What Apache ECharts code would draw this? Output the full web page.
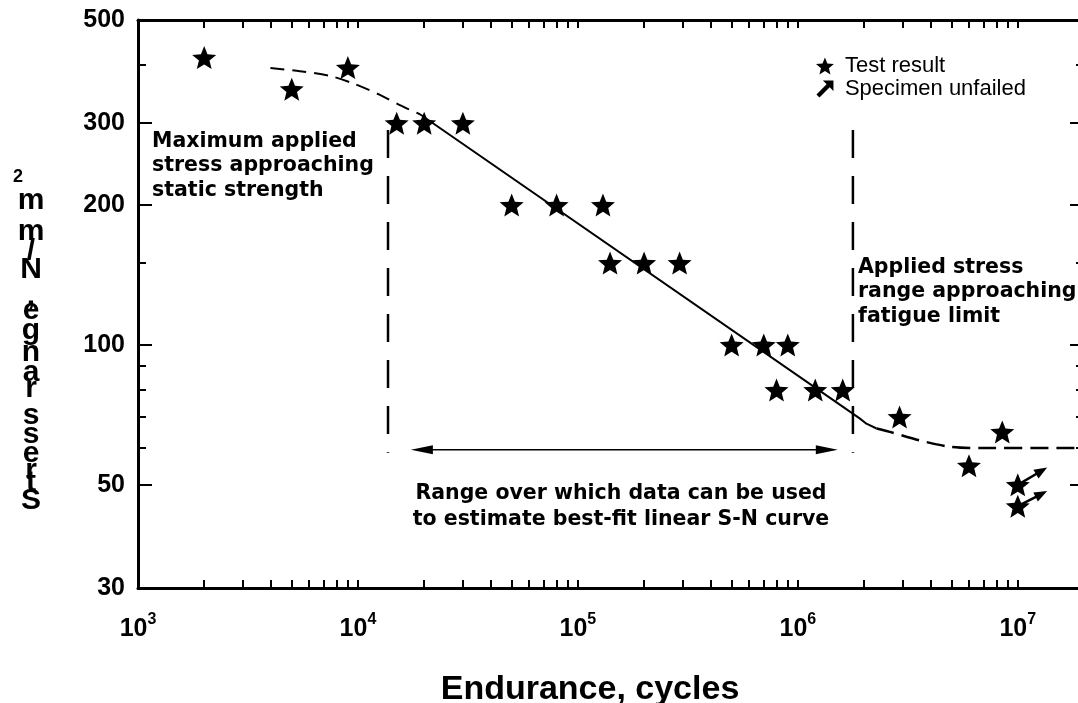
<!DOCTYPE html>
<html><head><meta charset="utf-8">
<script src="https://cdn.jsdelivr.net/npm/echarts@6/dist/echarts.min.js"></script>
<style>html,body{margin:0;padding:0;background:#fff}#c{width:1078px;height:703px}</style>
</head><body><div id="c"></div>
<script>
// ---- data ----
const testN = [2000, 5000, 9000, 15000, 20000, 30000, 50000, 80000, 130000, 140000, 200000, 290000, 500000, 700000, 900000, 800000, 1200000, 1600000, 2900000, 6000000, 8500000, 10000000, 10000000];
const testS = [415, 355, 395, 300, 300, 300, 200, 200, 200, 150, 150, 150, 100, 100, 100, 80, 80, 80, 70, 55, 65, 50, 45];
const unfailedN = [10000000, 10000000];
const unfailedS = [50, 45];
const unfailedEndN = [13600000, 13600000];
const unfailedEndS = [54.5, 48.5];
const upperCurveN = [4000, 5450, 7460, 9690, 12590, 15520, 19140];
const upperCurveS = [394, 388, 379, 364, 345, 328, 313.5];
const fitLineN = [19140, 1910000, 2050000, 2280000];
const fitLineS = [313.5, 69.5, 67.7, 66.1];
const lowerCurveN = [2280000, 2620000, 3590000, 4910000, 6700000, 20000000];
const lowerCurveS = [66.1, 65.0, 62.3, 60.4, 60, 60];
const boundaryN = [13700, 1780000];
const boundaryS = [290, 58.6];
const rangeArrowN = [17400, 1520000];
const rangeArrowS = [59.5, 59.5];
const xTickLabels = [1e3, 1e4, 1e5, 1e6, 1e7];
const xMinorMultipliers = [2, 3, 4, 5, 6, 7, 8, 9];
const yTickLabels = [30, 50, 100, 200, 300, 500];
const yMajorTicks = [50, 100, 200, 300];
const yMinorTicks = [60, 70, 80, 90, 150, 400];
const legendNames = ['Test result', 'Specimen unfailed'];
const yTitle = 'Stress range, N/mm';
const yTitleSup = '2';
const xTitle = 'Endurance, cycles';
const noteLeft = 'Maximum applied\nstress approaching\nstatic strength';
const noteRight = 'Applied stress\nrange approaching\nfatigue limit';
const noteBottom = 'Range over which data can be used\nto estimate best-fit linear S-N curve';

// ---- derived ----
const xTicks = [];
xTickLabels.forEach(d => { xTicks.push(d); xMinorMultipliers.forEach(m => { if (m * d <= 2e7) xTicks.push(m * d); }); });
const zip = (a, b) => a.map((v, i) => [v, b[i]]);

const STAR = 'path://M50 0 L62.93 32.2 L97.55 34.55 L70.92 56.8 L79.39 90.45 L50 72 L20.61 90.45 L29.08 56.8 L2.45 34.55 L37.07 32.2 Z';
const ARROW = 'path://M100 0 L100 62 L78 40 L18 100 L0 82 L60 22 L38 0 Z';
const FONT = '"Liberation Sans", Arial, sans-serif';
const NOTE_FONT = 'bold 20.5px "DejaVu Sans", sans-serif';

function makeArrow(headLen, headW, lineW, both) {
  return function (params, api) {
    const a = api.coord([api.value(0), api.value(1)]);
    const b = api.coord([api.value(2), api.value(3)]);
    const dx = b[0] - a[0], dy = b[1] - a[1], L = Math.hypot(dx, dy);
    const ux = dx / L, uy = dy / L, nx = -uy, ny = ux;
    const head = (tip, dir) => {
      const bx = tip[0] - dir * ux * headLen, by = tip[1] - dir * uy * headLen;
      return { type: 'polygon', shape: { points: [tip, [bx + nx * headW / 2, by + ny * headW / 2], [bx - nx * headW / 2, by - ny * headW / 2]] }, style: { fill: '#000' } };
    };
    const s = both ? [a[0] + ux * headLen * 0.8, a[1] + uy * headLen * 0.8] : a;
    const e = [b[0] - ux * headLen * 0.8, b[1] - uy * headLen * 0.8];
    const children = [{ type: 'line', shape: { x1: s[0], y1: s[1], x2: e[0], y2: e[1] }, style: { stroke: '#000', lineWidth: lineW } }, head(b, 1)];
    if (both) children.push(head(a, -1));
    return { type: 'group', children };
  };
}

function buildYTitle() {
  const ctx = document.createElement('canvas').getContext('2d');
  const font = 'bold 30px "Liberation Sans"';
  ctx.font = font;
  let y = 512;
  const els = [];
  for (const ch of yTitle) {
    const w = ctx.measureText(ch).width * 1.16;
    if (ch !== ' ') els.push({ type: 'text', x: 31, y: y - w / 2, style: { text: ch, font, fill: '#000', align: 'center', verticalAlign: 'middle', textAlign: 'center', textVerticalAlign: 'middle' } });
    y -= w;
  }
  els.push({ type: 'text', x: 18, y: y - 8, style: { text: yTitleSup, font: 'bold 18px "Liberation Sans"', fill: '#000', align: 'center', verticalAlign: 'middle', textAlign: 'center', textVerticalAlign: 'middle' } });
  return els;
}

const tickStyle = { color: '#000', width: 2 };
const lineAx = { show: true, onZero: false, lineStyle: { color: '#000', width: 3 } };
const commonX = { type: 'log', logBase: 10, min: 1000, max: 2e7, splitLine: { show: false }, minorTick: { show: false } };
const commonY = { type: 'log', logBase: 10, min: 30, max: 500, splitLine: { show: false }, minorTick: { show: false } };

const chart = echarts.init(document.getElementById('c'), null, { renderer: 'canvas' });
chart.setOption({
  animation: false,
  backgroundColor: '#fff',
  color: ['#000'],
  grid: { left: 138, top: 20, width: 946, height: 568, containLabel: false, outerBoundsMode: 'none' },
  legend: {
    orient: 'vertical', left: 816, top: 55, itemWidth: 18, itemHeight: 17, itemGap: 1, padding: 0,
    selectedMode: false,
    textStyle: { fontSize: 22, fontFamily: FONT, color: '#000', padding: [0, 0, 0, 6] },
    data: [{ name: legendNames[0], icon: STAR, itemStyle: { opacity: 1 } }, { name: legendNames[1], icon: ARROW }]
  },
  xAxis: [
    Object.assign({}, commonX, { position: 'bottom', axisLine: lineAx,
      axisTick: { show: true, inside: true, length: 8, lineStyle: tickStyle, customValues: xTicks },
      axisLabel: { show: true, customValues: xTickLabels, margin: 24,
        formatter: v => '{b|10}{s|' + Math.round(Math.log10(v)) + '}',
        rich: { b: { fontSize: 25, fontWeight: 'bold', fontFamily: FONT, color: '#000', lineHeight: 30, verticalAlign: 'bottom' },
                s: { fontSize: 16, fontWeight: 'bold', fontFamily: FONT, color: '#000', lineHeight: 30, verticalAlign: 'top' } } } }),
    Object.assign({}, commonX, { position: 'top', axisLine: lineAx,
      axisTick: { show: true, inside: true, length: 8, lineStyle: tickStyle, customValues: xTicks },
      axisLabel: { show: false } })
  ],
  yAxis: [
    Object.assign({}, commonY, { position: 'left', axisLine: lineAx,
      axisTick: { show: true, inside: true, length: 14, lineStyle: tickStyle, customValues: yMajorTicks },
      axisLabel: { show: true, customValues: yTickLabels, margin: 13, formatter: v => String(Math.round(v)),
        fontSize: 25, fontWeight: 'bold', fontFamily: FONT, color: '#000' } }),
    Object.assign({}, commonY, { position: 'left', axisLine: { show: false },
      axisTick: { show: true, inside: true, length: 8, lineStyle: tickStyle, customValues: yMinorTicks }, axisLabel: { show: false } }),
    Object.assign({}, commonY, { position: 'right', axisLine: lineAx,
      axisTick: { show: true, inside: true, length: 14, lineStyle: tickStyle, customValues: yMajorTicks }, axisLabel: { show: false } }),
    Object.assign({}, commonY, { position: 'right', axisLine: { show: false },
      axisTick: { show: true, inside: true, length: 8, lineStyle: tickStyle, customValues: yMinorTicks }, axisLabel: { show: false } })
  ],
  series: [
    { name: 'upper', type: 'line', data: zip(upperCurveN, upperCurveS), symbol: 'none', smooth: 0.3,
      lineStyle: { color: '#000', width: 2, type: [14, 8] }, z: 2 },
    { name: 'fit', type: 'line', data: zip(fitLineN, fitLineS), symbol: 'none',
      lineStyle: { color: '#000', width: 2 }, z: 2 },
    { name: 'lower', type: 'line', data: zip(lowerCurveN, lowerCurveS), symbol: 'none', smooth: 0.3,
      lineStyle: { color: '#000', width: 2.5, type: [18, 8] }, z: 2 },
    { name: 'bL', type: 'line', data: [[boundaryN[0], boundaryS[0]], [boundaryN[0], boundaryS[1]]], symbol: 'none',
      lineStyle: { color: '#000', width: 2.5, type: [28, 18] }, z: 2 },
    { name: 'bR', type: 'line', data: [[boundaryN[1], boundaryS[0]], [boundaryN[1], boundaryS[1]]], symbol: 'none',
      lineStyle: { color: '#000', width: 2.5, type: [28, 18] }, z: 2 },
    { name: 'range', type: 'custom', renderItem: makeArrow(22, 9, 1.5, true),
      data: [[rangeArrowN[0], rangeArrowS[0], rangeArrowN[1], rangeArrowS[1]]], encode: { x: [0, 2], y: [1, 3] }, z: 2, silent: true },
    { name: legendNames[1], type: 'custom', itemStyle: { color: '#000' }, renderItem: makeArrow(13, 10, 2.5, false),
      data: unfailedN.map((n, i) => [n, unfailedS[i], unfailedEndN[i], unfailedEndS[i]]), encode: { x: [0, 2], y: [1, 3] }, z: 3 },
    { name: legendNames[0], type: 'scatter', data: zip(testN, testS), symbol: STAR, symbolSize: [24, 23],
      itemStyle: { color: '#000', opacity: 1 }, emphasis: { disabled: true }, z: 5 }
  ],
  graphic: [
    { type: 'text', left: 152, top: 129, style: { text: noteLeft, font: NOTE_FONT, lineHeight: 24.5, fill: '#000' } },
    { type: 'text', left: 858, top: 255, style: { text: noteRight, font: NOTE_FONT, lineHeight: 24.5, fill: '#000' } },
    { type: 'text', x: 621, y: 481, style: { text: noteBottom, font: NOTE_FONT, lineHeight: 26, fill: '#000', align: 'center', textAlign: 'center', verticalAlign: 'top', textVerticalAlign: 'top' } },
    { type: 'text', x: 590, y: 690, style: { text: xTitle, font: 'bold 34px "Liberation Sans"', fill: '#000', align: 'center', textAlign: 'center', verticalAlign: 'middle', textVerticalAlign: 'middle' } }
  ].concat(buildYTitle())
});
</script></body></html>
